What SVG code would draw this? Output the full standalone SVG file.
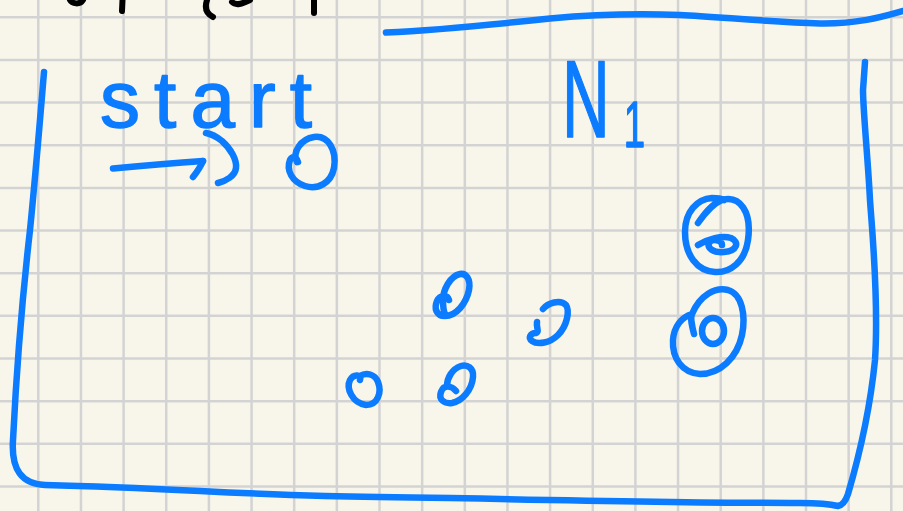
<svg xmlns="http://www.w3.org/2000/svg" width="903" height="511" viewBox="0 0 903 511">
<defs>
<style>
.ink{fill:none;stroke:#0b7bff;stroke-width:6.5;stroke-linecap:round;stroke-linejoin:round}
.blk{fill:none;stroke:#000;stroke-width:6;stroke-linecap:round}
.grid{fill:none;stroke:#d3d3d3;stroke-width:2.5}
.lbl{fill:#0b7bff;stroke:#0b7bff;stroke-width:1.5;stroke-linejoin:round;font-family:"Liberation Sans",Arial,sans-serif}
</style>
</defs>
<rect width="903" height="511" fill="#f8f6ea"/>
<path class="grid" d="M38.3,0V511M80.95,0V511M123.6,0V511M166.25,0V511M208.9,0V511M251.55,0V511M294.2,0V511M336.85,0V511M379.5,0V511M422.15,0V511M464.8,0V511M507.45,0V511M550.1,0V511M592.75,0V511M635.4,0V511M678.05,0V511M720.7,0V511M763.35,0V511M806,0V511M848.65,0V511M891.3,0V511M0,17.3H903M0,59.95H903M0,102.6H903M0,145.25H903M0,187.9H903M0,230.55H903M0,273.2H903M0,315.85H903M0,358.5H903M0,401.15H903M0,443.8H903M0,486.45H903"/>
<g id="top-fragments">
<path class="blk" d="M70,0 C72,4 80,5 83,0"/>
<path class="blk" d="M122.5,0 L122,11"/>
<path class="blk" d="M207,0 C205,6 205,13 213,17"/>
<path class="blk" d="M232,2 C236,6 242,4 250,0"/>
<path class="blk" d="M314,0 L314,13"/>
</g>
<g id="frame">
<path class="ink" d="M44,72 C40,120 36,170 30,230 C22,300 16,380 13,440 C11,470 22,484 45,485 C90,486 140,488 200,491 C300,496 350,497 450,498 C600,501 700,503 800,503 C820,503 830,504 838,506 C843,505 846,500 848,494 C858,460 870,410 875,360 C879,300 872,230 870,200 C868,160 863,110 863,90 L865,62"/>
<path class="ink" d="M386,32.5 C420,31 480,26 550,18.5 C600,14 640,13.5 680,15 C720,17 770,22 820,23.5 C860,24 885,16 903,11"/>
</g>
<g id="label-start">
<text class="lbl" x="100" y="127" font-size="80" textLength="212" lengthAdjust="spacing">start</text>
</g>
<g id="label-N1">
<text class="lbl" font-size="110" transform="translate(562,137) scale(0.6,1)">N<tspan x="103" y="10" font-size="64">1</tspan></text>
</g>
<g id="connectors">
<path class="ink" d="M113,168.5 C140,166 175,163 203,161"/>
<path class="ink" d="M203,161 C200,168 197,172 193,177"/>
<path class="ink" d="M206,133 C212,134 217,137 222,141 C231,149 237,160 236,168 C235,176 226,181 218,183"/>
</g>
<g id="node-start">
<path class="ink" d="M297,162 C292,152 301,139 314,137 C328,135 337,150 334,168 C331,183 318,190 305,186 C292,182 286,170 290,160 C292,156 296,156 298,162"/>
</g>
<g id="node-a">
<path class="ink" d="M449,300 C447,294 440,295 437,301 C434,308 436,316 445,316 C456,316 466,304 469,290 C471,279 466,273 460,274 C450,276 443,290 443,300 C443,306 443,310 445,314"/>
</g>
<g id="node-b">
<path class="ink" d="M537,322 C536,328 540,332 536,333 C530,333 528,338 532,341 C538,345 550,343 558,335 C567,326 570,311 566,305 C560,299 548,303 543,309"/>
</g>
<g id="node-c">
<path class="ink" d="M456,391 C452,386 444,384 441,392 C438,400 445,404 452,403 C462,401 472,390 473,377 C474,368 467,364 461,366 C452,369 447,378 447,386"/>
</g>
<g id="node-d">
<path class="ink" d="M360,380 C362,375 354,373 350,380 C346,388 352,403 366,405 C378,405 382,392 378,382 C375,374 366,372 360,376"/>
</g>
<g id="node-accept-1">
<path class="ink" d="M698,223 C705,213 712,204 722,200 C740,195 752,212 748,240 C745,262 730,273 715,272 C697,271 685,255 685,232 C685,212 697,199 712,198 C718,198 722,199 724,200"/>
<path class="ink" d="M698,245 C708,239 722,235 731,238 C740,242 737,251 724,252 C713,253 707,248 709,243 C712,238 722,240 722,245"/>
</g>
<g id="node-accept-2">
<path class="ink" d="M694,334 C692,326 690,318 692,314 C700,295 715,287 728,290 C742,294 746,315 742,335 C737,358 720,374 700,374 C682,373 672,358 673,340 C674,326 682,317 692,314"/>
<ellipse class="ink" cx="713" cy="331" rx="11" ry="13"/>
</g>
</svg>
